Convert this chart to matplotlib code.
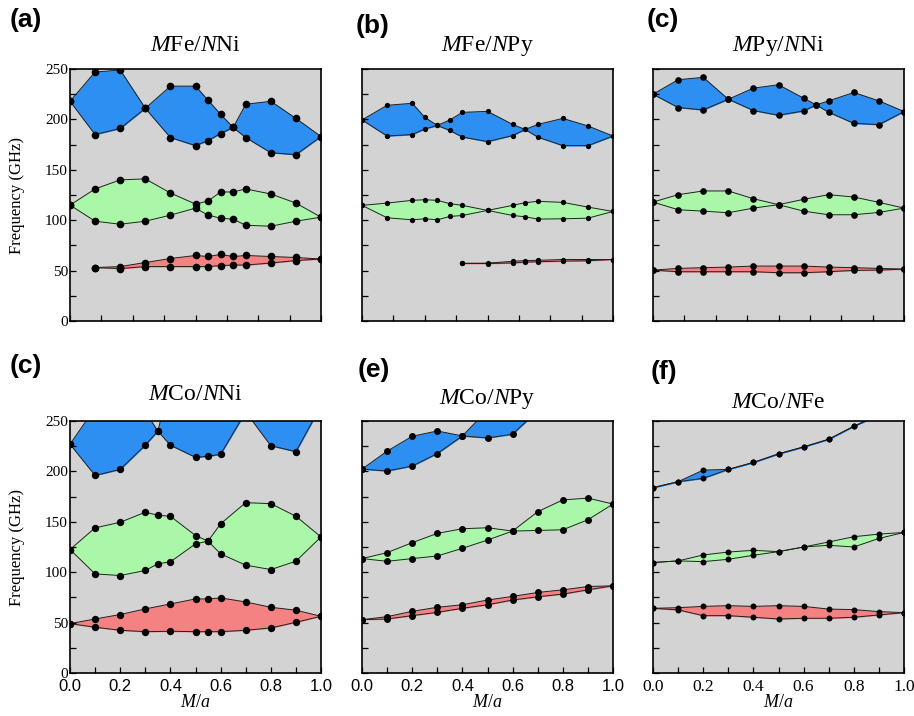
import matplotlib
matplotlib.use("Agg")
import matplotlib.pyplot as plt
from matplotlib.ticker import MultipleLocator

plt.rcParams['font.family'] = 'Liberation Serif'
plt.rcParams['mathtext.fontset'] = 'custom'
plt.rcParams['mathtext.rm'] = 'Liberation Serif'
plt.rcParams['mathtext.it'] = 'Liberation Serif:italic'

BLUE, GREEN, RED = '#2d8ff2', '#aaf7aa', '#f48282'
BG = '#d3d3d3'

x10 = [0, .1, .2, .3, .4, .5, .6, .7, .8, .9, 1.0]

# (a) MFe/NNi
a_blue_x = [0, .1, .2, .3, .4, .5, .55, .6, .65, .7, .8, .9, 1.0]
a_blue_hi = [218, 247, 249, 211, 233, 233, 219, 205, 192, 215, 218, 201, 183]
a_blue_lo = [218, 185, 191, 211, 182, 174, 179, 186, 192, 182, 167, 165, 183]
a_green_hi = [115, 131, 140, 141, 127, 116, 119, 128, 128, 131, 126, 117, 103]
a_green_lo = [115, 99, 96, 99, 105, 112, 105, 102, 101, 95, 94, 99, 103]
a_red_x = [.1, .2, .3, .4, .5, .55, .6, .65, .7, .8, .9, 1.0]
a_red_hi = [53, 54, 58, 62, 65, 64, 66, 64, 65, 64, 63, 61.5]
a_red_lo = [53, 52, 54, 54, 54, 54, 55, 55.5, 55.5, 57.5, 60, 61.5]

# (b) MFe/NPy
b_x = [0, .1, .2, .25, .3, .35, .4, .5, .6, .65, .7, .8, .9, 1.0]
b_blue_hi = [199.5, 214, 216, 202, 194, 199.5, 207, 208, 195, 190, 195, 201, 193.5, 183.5]
b_blue_lo = [199.5, 183.5, 185, 190.5, 194, 189, 182.5, 178, 184, 190, 182.5, 174, 174, 183.5]
b_green_hi = [114.7, 117, 119.7, 120.3, 119.7, 116.4, 114.7, 109.7, 114.7, 117.4, 118.7, 117.7, 113, 108.7]
b_green_lo = [114.7, 102.4, 100.4, 101.4, 100.4, 103.7, 104.7, 109.7, 104.7, 103.4, 101.1, 101.4, 102, 108.7]
b_red_x = [.4, .5, .6, .65, .7, .8, .9, 1.0]
b_red_hi = [57.2, 57.4, 59.2, 60, 60.2, 61, 61, 61]
b_red_lo = [57.2, 57.0, 57.6, 58.4, 58.8, 59.4, 59.8, 61]

# (c) MPy/NNi
c_blue_x = [0, .1, .2, .3, .4, .5, .6, .65, .7, .8, .9, 1.0]
c_blue_hi = [225, 239.4, 241.7, 220, 231, 234.4, 221, 214.4, 218.4, 226.7, 218.4, 207.8]
c_blue_lo = [225, 211.8, 209.4, 220, 208.8, 204.1, 208.4, 214.4, 207.1, 196.1, 194.8, 207.8]
c_green_hi = [118, 125.3, 129, 129, 121.3, 115.4, 120.7, 125.3, 123, 117.7, 112]
c_green_lo = [118, 110.4, 109, 107.4, 112, 115.4, 109, 105.4, 105.4, 107.7, 112]
c_red_hi = [50.5, 52.2, 52.9, 53.5, 54.5, 54.5, 54.5, 53.5, 52.9, 52.2, 51.5]
c_red_lo = [50.5, 48.9, 48.9, 48.9, 48.9, 47.9, 47.9, 48.9, 50.2, 50.5, 51.5]

# (d) MCo/NNi  (upper blue edge runs off the top of the axis)
d_x = [0, .1, .2, .3, .35, .4, .5, .55, .6, .7, .8, .9, 1.0]
d_blue_hi = [227, 263, 270, 259, 240, 290, 300, 300, 300, 300, 300, 300, 300]
d_blue_lo = [227, 196, 202, 226, 240, 226, 214, 215, 217, 259, 225.5, 219.6, 265]
d_green_hi = [122.5, 144, 149.5, 159.5, 156.5, 155.5, 136.4, 130.8, 148, 169, 168, 155.5, 135]
d_green_lo = [122.5, 98.3, 96.7, 101.7, 108.3, 110.3, 128.1, 130.8, 118.2, 107, 102.6, 110.9, 135]
d_red_x = [0, .1, .2, .3, .4, .5, .55, .6, .7, .8, .9, 1.0]
d_red_hi = [49, 53.6, 58, 63.6, 68.5, 73.5, 73.5, 74.5, 70.5, 65.2, 62.3, 56.3]
d_red_lo = [49, 45.4, 42.4, 41, 41.4, 41, 41, 41, 42.4, 44.7, 50.3, 56.3]

# (e) MCo/NPy
e_blue_hi = [202.3, 220.1, 234.9, 240.1, 235.2, 261, 280, 295, 310, 320, 330]
e_blue_lo = [202.3, 200.4, 205.3, 217.7, 235.2, 233.2, 236.9, 260.3, 280, 295, 310]
e_green_hi = [113.5, 119.4, 129.3, 138.5, 143.1, 144.1, 140.8, 160, 171.7, 173.5, 167.6]
e_green_lo = [113.5, 110.8, 113.5, 116.1, 123.7, 131.9, 140.8, 141.4, 142.1, 152, 167.6]
e_red_hi = [52.9, 55.9, 61.2, 65.2, 67.7, 72.4, 76, 79.9, 82.5, 85.8, 86.5]
e_red_lo = [52.9, 53.6, 56.9, 60.2, 64.2, 67.7, 72.4, 75.6, 78.3, 82.5, 86.5]

# (f) MCo/NFe
f_blue_hi = [183.9, 189.8, 201.3, 202, 208.9, 217.4, 224.3, 231.9, 244.8, 256, 268]
f_blue_lo = [183.9, 189.8, 193.1, 202, 208.9, 217.4, 224.3, 231.9, 244.8, 256, 268]
f_green_hi = [109.6, 111.2, 117.1, 120, 121.7, 120.4, 125, 130, 135.2, 137.8, 139.4]
f_green_lo = [109.6, 111.2, 110.5, 112.8, 116.8, 120.4, 125, 126.7, 125, 133.5, 139.4]
f_red_hi = [64.2, 64.8, 66.1, 66.8, 66.1, 66.8, 66.1, 63.4, 62.9, 60.9, 59.9]
f_red_lo = [64.2, 62.6, 56.9, 56.9, 55.3, 53.6, 54.3, 54.3, 55.3, 57.6, 59.9]

panels = [
    dict(tag='(a)', title=r'$M$Fe/$N$Ni', ms=5.5,
         bands=[(a_blue_x, a_blue_hi, a_blue_lo, BLUE), (a_blue_x, a_green_hi, a_green_lo, GREEN),
                (a_red_x, a_red_hi, a_red_lo, RED)]),
    dict(tag='(b)', title=r'$M$Fe/$N$Py', ms=3.8,
         bands=[(b_x, b_blue_hi, b_blue_lo, BLUE), (b_x, b_green_hi, b_green_lo, GREEN),
                (b_red_x, b_red_hi, b_red_lo, RED)]),
    dict(tag='(c)', title=r'$M$Py/$N$Ni', ms=4.8,
         bands=[(c_blue_x, c_blue_hi, c_blue_lo, BLUE), (x10, c_green_hi, c_green_lo, GREEN),
                (x10, c_red_hi, c_red_lo, RED)]),
    dict(tag='(c)', title=r'$M$Co/$N$Ni', ms=5.3, tickfont='Liberation Sans',
         bands=[(d_x, d_blue_hi, d_blue_lo, BLUE), (d_x, d_green_hi, d_green_lo, GREEN),
                (d_red_x, d_red_hi, d_red_lo, RED)]),
    dict(tag='(e)', title=r'$M$Co/$N$Py', ms=5.0, tickfont='Liberation Sans',
         bands=[(x10, e_blue_hi, e_blue_lo, BLUE), (x10, e_green_hi, e_green_lo, GREEN),
                (x10, e_red_hi, e_red_lo, RED)]),
    dict(tag='(f)', title=r'$M$Co/$N$Fe', ms=4.3, tickfont='Liberation Serif',
         bands=[(x10, f_blue_hi, f_blue_lo, BLUE), (x10, f_green_hi, f_green_lo, GREEN),
                (x10, f_red_hi, f_red_lo, RED)]),
]

W, H = 914, 716
lefts = [70, 362, 653]
tops = [69, 421]
tag_pos = [(10, 8), (356, 14), (647, 8), (10, 354), (358, 358), (651, 360)]
title_pad = [13, 13, 13, 15, 12, 9]

fig = plt.figure(figsize=(W / 100, H / 100), dpi=100)

for i, p in enumerate(panels):
    row, col = divmod(i, 3)
    ax = fig.add_axes([lefts[col] / W, (H - tops[row] - 252) / H, 251 / W, 252 / H])
    ax.set_facecolor(BG)
    for x, hi, lo, color in p['bands']:
        ax.fill_between(x, lo, hi, color=color, lw=0.6, edgecolor=color, zorder=1)
        ax.plot(x, hi, '-', color='#202020', lw=0.7, zorder=2)
        ax.plot(x, lo, '-', color='#202020', lw=0.7, zorder=2)
        ax.plot(x, hi, 'o', color='k', ms=p['ms'], mew=0, zorder=3)
        ax.plot(x, lo, 'o', color='k', ms=p['ms'], mew=0, zorder=3)

    ax.set_xlim(0, 1)
    ax.set_ylim(0, 250)
    ax.yaxis.set_major_locator(MultipleLocator(50))
    ax.yaxis.set_minor_locator(MultipleLocator(25))
    if row == 0:
        ax.xaxis.set_major_locator(MultipleLocator(0.125))
        ax.set_xticklabels([])
    else:
        ax.xaxis.set_major_locator(MultipleLocator(0.2))
        ax.xaxis.set_minor_locator(MultipleLocator(0.1))
        ax.set_xlabel(r'$M/a$', fontsize=13)
        ax.xaxis.set_label_coords(0.5, -0.085)
        for t in ax.get_xticklabels():
            t.set_fontfamily(p['tickfont'])
        ax.tick_params(axis='x', labelsize=12.5 if col == 2 else 12, pad=4)
    ax.tick_params(which='both', direction='in', length=4.5, width=0.9,
                   top=False, right=False)
    if col == 0:
        ax.set_ylabel('Frequency (GHz)', fontsize=12)
        ax.yaxis.set_label_coords(-0.18, 0.5)
        ax.tick_params(axis='y', labelsize=11, pad=1.5)
    else:
        ax.set_yticklabels([])
    for s in ax.spines.values():
        s.set_linewidth(1.2)

    ax.set_title(p['title'], fontsize=17, pad=title_pad[i])
    tx, ty = tag_pos[i]
    fig.text(tx / W, 1 - ty / H, p['tag'], fontsize=19, fontweight='bold',
             family='Liberation Sans', ha='left', va='top')

fig.savefig('out.png', dpi=100, facecolor='white')
